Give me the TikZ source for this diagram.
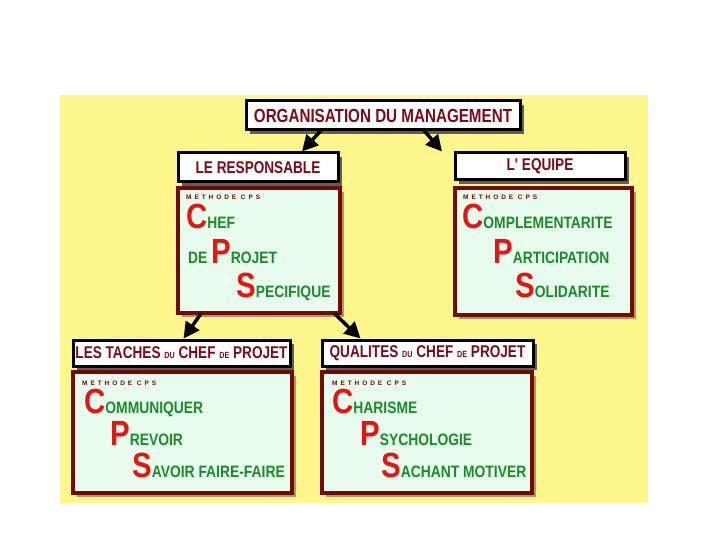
\documentclass[tikz,border=0pt]{standalone}
\usepackage{fontspec}
\setmainfont{Liberation Sans}
\newfontfamily\cpsfont{Liberation Sans}[FakeStretch=0.84]
\newfontfamily\hdrfont{Liberation Sans}[FakeStretch=0.8]
\newfontfamily\methfont{Liberation Sans}[LetterSpace=45]
\usetikzlibrary{arrows.meta, positioning, calc, shadows}
\definecolor{bgyellow}{RGB}{255,246,140}
\definecolor{panelfill}{RGB}{232,252,238}
\definecolor{panelred}{RGB}{115,10,10}
\definecolor{hdrred}{RGB}{125,10,25}
\definecolor{cpsgreen}{RGB}{25,140,40}
\definecolor{cpsred}{RGB}{232,20,20}
\definecolor{tanshadow}{RGB}{185,145,105}
\definecolor{grayshadow}{RGB}{95,95,85}
\newcommand{\cps}[2]{{\color{cpsred}\fontsize{35}{35}\selectfont #1}{\color{cpsgreen}#2}}
\newcommand{\smw}[1]{{\fontsize{9}{9}\selectfont #1}}
\tikzset{
  hdr/.style={rectangle, draw=black, fill=white, line width=3pt, text=hdrred,
    font=\hdrfont\bfseries\fontsize{17}{17}\selectfont, inner sep=0pt,
    drop shadow={shadow xshift=4pt, shadow yshift=-4pt, fill=grayshadow, opacity=1}},
  panel/.style={rectangle, draw=panelred, fill=panelfill, line width=4pt, inner sep=0pt,
    drop shadow={shadow xshift=4pt, shadow yshift=-4pt, fill=tanshadow, opacity=1}},
  meth/.style={anchor=base west, inner sep=0pt, text=panelred,
    font=\methfont\bfseries\fontsize{6.5}{6.5}\selectfont},
  cpsline/.style={anchor=base west, inner sep=0pt,
    font=\cpsfont\bfseries\fontsize{16.5}{16.5}\selectfont},
  arrow/.style={-{Triangle[length=16pt, width=16pt]}, line width=3.5pt, black, shorten <=-2pt}
}
\begin{document}
\begin{tikzpicture}[x=1pt, y=-1pt]
  \useasboundingbox (0,0) rectangle (720,540);
  \fill[bgyellow] (60,95) rectangle (648,503);
  % titles
  \node[hdr, minimum width=274pt, minimum height=29pt, font=\hdrfont\bfseries\fontsize{19}{19}\selectfont] (org) at (383,115.5) {ORGANISATION DU MANAGEMENT};
  \node[hdr, minimum width=160pt, minimum height=29pt] (resp) at (258,167.5) {LE RESPONSABLE};
  \node[hdr, minimum width=170pt, minimum height=27pt] (equipe) at (540,166.5) {L' EQUIPE};
  \node[hdr, minimum width=217pt, minimum height=26pt] (taches) at (181.5,353) {LES TACHES \smw{DU} CHEF \smw{DE} PROJET};
  \node[hdr, minimum width=211pt, minimum height=26pt] (qual) at (427.5,353) {QUALITES \smw{DU} CHEF \smw{DE} PROJET};
  % panels
  \node[panel, minimum width=162pt, minimum height=125pt] (pnlresp) at (259,250.5) {};
  \node[panel, minimum width=177pt, minimum height=127pt] (pnlequipe) at (543.5,251.5) {};
  \node[panel, minimum width=219pt, minimum height=121pt] (pnltaches) at (182.5,432.5) {};
  \node[panel, minimum width=210pt, minimum height=121pt] (pnlqual) at (427,432.5) {};
  % le responsable
  \node[meth] (m1) at (186,200) {METHODE CPS};
  \node[cpsline] (r1) at (186,229) {\cps{C}{HEF}};
  \node[cpsline] (r2) at (188,263) {{\color{cpsgreen}DE }\cps{P}{ROJET}};
  \node[cpsline] (r3) at (236,297) {\cps{S}{PECIFIQUE}};
  % l'equipe
  \node[meth] (m2) at (463,200) {METHODE CPS};
  \node[cpsline] (e1) at (462,229) {\cps{C}{OMPLEMENTARITE}};
  \node[cpsline] (e2) at (493,263) {\cps{P}{ARTICIPATION}};
  \node[cpsline] (e3) at (515,297) {\cps{S}{OLIDARITE}};
  % les taches
  \node[meth] (m3) at (82,385) {METHODE CPS};
  \node[cpsline] (t1) at (84,413) {\cps{C}{OMMUNIQUER}};
  \node[cpsline] (t2) at (110,445) {\cps{P}{REVOIR}};
  \node[cpsline] (t3) at (132,477) {\cps{S}{AVOIR FAIRE-FAIRE}};
  % qualites
  \node[meth] (m4) at (332,385) {METHODE CPS};
  \node[cpsline] (q1) at (332,413) {\cps{C}{HARISME}};
  \node[cpsline] (q2) at (360,445) {\cps{P}{SYCHOLOGIE}};
  \node[cpsline] (q3) at (381,477) {\cps{S}{ACHANT MOTIVER}};
  % arrows
  \draw[arrow] ([xshift=-63pt]org.south) -- ([xshift=44pt]resp.north);
  \draw[arrow] ([xshift=42pt]org.south) -- ([xshift=-98pt]equipe.north);
  \draw[arrow] ([xshift=-59pt]pnlresp.south) -- ([xshift=2pt]taches.north);
  \draw[arrow] ([xshift=77pt]pnlresp.south) -- ([xshift=-67pt]qual.north);
\end{tikzpicture}
\end{document}
